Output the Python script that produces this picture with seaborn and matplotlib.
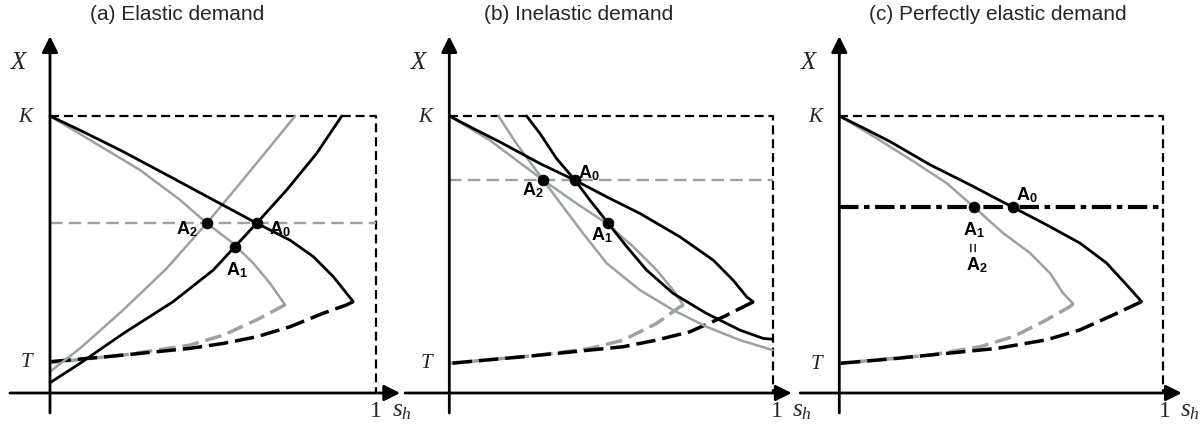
import matplotlib
matplotlib.use("Agg")
import matplotlib.pyplot as plt
import seaborn as sns

sns.set_theme(style="white")
plt.rcParams['font.family'] = ['Liberation Sans', 'DejaVu Sans']
plt.rcParams['mathtext.fontset'] = 'custom'
plt.rcParams['mathtext.it'] = 'Liberation Serif:italic'
plt.rcParams['mathtext.rm'] = 'Liberation Serif'
plt.rcParams['mathtext.bf'] = 'Liberation Sans:bold'
plt.rcParams['lines.scale_dashes'] = False

BLACK = '#000000'
GRAY = '#9AA3A1'

titles = ['(a) Elastic demand', '(b) Inelastic demand', '(c) Perfectly elastic demand']
t_levels = [0.114, 0.111, 0.108]

# ---- panel (a): elastic demand ----
a_black_down = [(0, 1.0), (0.102, 0.943), (0.225, 0.871), (0.378, 0.775), (0.501, 0.697),
                (0.634, 0.613), (0.736, 0.552), (0.808, 0.492), (0.869, 0.420), (0.930, 0.330)]
a_black_dash = [(0.930, 0.330), (0.910, 0.318), (0.838, 0.288), (0.736, 0.239), (0.634, 0.203),
                (0.532, 0.179), (0.429, 0.161), (0.327, 0.149), (0.174, 0.131), (0, 0.113)]
a_gray_down = [(0, 1.0), (0.123, 0.913), (0.276, 0.805), (0.399, 0.697), (0.481, 0.613),
               (0.562, 0.540), (0.624, 0.468), (0.675, 0.396), (0.721, 0.318)]
a_gray_dash = [(0.721, 0.318), (0.711, 0.312), (0.634, 0.264), (0.532, 0.209), (0.429, 0.173),
               (0.327, 0.155), (0.225, 0.137), (0, 0.110)]
a_black_up = [(0, 0.037), (0.092, 0.107), (0.225, 0.215), (0.378, 0.330), (0.501, 0.444),
              (0.567, 0.528), (0.634, 0.613), (0.726, 0.733), (0.818, 0.865), (0.895, 1.0)]
a_gray_up = [(0, 0.077), (0.092, 0.161), (0.225, 0.300), (0.358, 0.450), (0.481, 0.613),
             (0.583, 0.757), (0.675, 0.889), (0.752, 1.0)]
a_level = 0.613
a_points = {'A_0': (0.634, 0.613), 'A_1': (0.567, 0.528), 'A_2': (0.481, 0.613)}
a_labels = {'A_0': (0.706, 0.590), 'A_1': (0.573, 0.445), 'A_2': (0.419, 0.590)}

# ---- panel (b): inelastic demand ----
b_black_down = [(0, 1.0), (0.074, 0.955), (0.157, 0.906), (0.281, 0.828), (0.389, 0.768),
                (0.487, 0.708), (0.590, 0.648), (0.713, 0.564), (0.816, 0.480), (0.878, 0.407),
                (0.920, 0.347), (0.940, 0.329)]
b_black_dash = [(0.940, 0.329), (0.848, 0.275), (0.744, 0.221), (0.641, 0.191), (0.538, 0.167),
                (0.384, 0.149), (0.229, 0.131), (0, 0.107)]
b_black_steep = [(0.239, 1.0), (0.281, 0.936), (0.332, 0.846), (0.389, 0.768), (0.435, 0.696),
                 (0.492, 0.612), (0.549, 0.528), (0.610, 0.444), (0.693, 0.359), (0.796, 0.287),
                 (0.899, 0.227), (0.971, 0.197), (1.0, 0.194)]
b_gray_down = [(0, 1.0), (0.126, 0.912), (0.208, 0.840), (0.291, 0.768), (0.394, 0.684),
               (0.487, 0.612), (0.569, 0.528), (0.641, 0.444), (0.693, 0.371), (0.724, 0.317)]
b_gray_dash = [(0.724, 0.317), (0.713, 0.311), (0.641, 0.251), (0.538, 0.191), (0.435, 0.161),
               (0.281, 0.137), (0, 0.107)]
b_gray_steep = [(0.152, 1.0), (0.208, 0.900), (0.291, 0.768), (0.352, 0.672), (0.414, 0.576),
                (0.487, 0.468), (0.590, 0.371), (0.693, 0.299), (0.796, 0.239), (0.899, 0.191),
                (1.0, 0.155)]
b_level = 0.768
b_points = {'A_0': (0.389, 0.768), 'A_1': (0.492, 0.612), 'A_2': (0.291, 0.768)}
b_labels = {'A_0': (0.433, 0.793), 'A_1': (0.471, 0.571), 'A_2': (0.258, 0.733)}

# ---- panel (c): perfectly elastic demand ----
c_black_down = [(0, 1.0), (0.074, 0.957), (0.156, 0.908), (0.280, 0.824), (0.403, 0.752),
                (0.535, 0.671), (0.640, 0.607), (0.743, 0.541), (0.825, 0.469), (0.887, 0.390),
                (0.933, 0.330)]
c_black_dash = [(0.933, 0.330), (0.846, 0.282), (0.743, 0.228), (0.640, 0.192), (0.486, 0.161),
                (0.331, 0.143), (0.177, 0.125), (0, 0.107)]
c_gray_down = [(0, 1.0), (0.105, 0.927), (0.229, 0.836), (0.331, 0.758), (0.416, 0.671),
               (0.506, 0.577), (0.589, 0.505), (0.650, 0.433), (0.691, 0.360), (0.722, 0.322)]
c_gray_dash = [(0.722, 0.322), (0.712, 0.312), (0.630, 0.258), (0.538, 0.204), (0.434, 0.167),
               (0.280, 0.137), (0, 0.107)]
c_level = 0.671
c_points = {'A_0': (0.535, 0.671), 'A_1': (0.416, 0.671)}
c_labels = {'A_0': (0.578, 0.714), 'A_1': (0.416, 0.588), 'A_2': (0.424, 0.461)}

# pixel geometry of each panel: left px, right px, origin x px, px per unit x
W, H = 1202, 428
AXIS_Y_PX, UNIT_Y_PX = 393, 277
panels_px = [(0, 400, 50, 326), (400, 800, 449.3, 323.3), (800, 1202, 839.3, 324)]
title_x = [0.39, 0.401, 0.488]
one_x = [1.0, 1.012, 1.005]
sh_x = [1.05, 1.06, 1.05]
xaxis_start = [-0.123, -0.137, -0.121]
xaxis_tip = [1.074, 1.059, 1.057]

LW_BLACK, LW_GRAY, LW_DASH = 2.0, 1.8, 2.5


def curve(ax, pts, color, lw, dashes=None):
    xs = [p[0] for p in pts]
    ys = [p[1] for p in pts]
    sns.lineplot(x=xs, y=ys, ax=ax, color=color, lw=lw, sort=False, estimator=None,
                 solid_joinstyle='round', solid_capstyle='round')
    line = ax.lines[-1]
    if dashes is not None:
        line.set_dashes(dashes)
    line.set_clip_on(False)


def dots(ax, pts):
    xs = [p[0] for p in pts.values()]
    ys = [p[1] for p in pts.values()]
    sns.scatterplot(x=xs, y=ys, ax=ax, color=BLACK, s=60, edgecolor=BLACK, zorder=5)


def alabel(ax, key, xy):
    ax.text(xy[0], xy[1], r'$\mathbf{A}_{\mathbf{%s}}$' % key[-1], ha='center', va='center',
            fontsize=13, color=BLACK)


fig = plt.figure(figsize=(W / 100, H / 100), dpi=100)
axes = []
for i, (lpx, rpx, ox, ux) in enumerate(panels_px):
    ax = fig.add_axes([lpx / W, 0, (rpx - lpx) / W, 1])
    ax.set_xlim((lpx - ox) / ux, (rpx - ox) / ux)
    ax.set_ylim(-(H - AXIS_Y_PX) / UNIT_Y_PX, AXIS_Y_PX / UNIT_Y_PX)
    ax.axis('off')
    axes.append(ax)

    # axes with arrows
    ax.annotate('', xy=(xaxis_tip[i], 0), xytext=(xaxis_start[i], 0),
                arrowprops=dict(arrowstyle='-|>', color=BLACK, lw=2, mutation_scale=24,
                                shrinkA=0, shrinkB=0))
    ax.annotate('', xy=(0, 1.288), xytext=(0, -0.072),
                arrowprops=dict(arrowstyle='-|>', color=BLACK, lw=2, mutation_scale=24,
                                shrinkA=0, shrinkB=0))
    # dashed box
    curve(ax, [(0, 1), (1, 1), (1, 0)], BLACK, 1.6, dashes=(6.5, 3.5))

    ax.text(title_x[i], 1.365, titles[i], ha='center', va='center', fontsize=15)
    ax.text(-0.093, 1.195, r'$X$', ha='center', va='center', fontsize=18)
    ax.text(-0.045, 1.0, r'$K$', ha='right', va='center', fontsize=15)
    ax.text(-0.045, t_levels[i], r'$T$', ha='right', va='center', fontsize=15)
    ax.text(one_x[i], -0.065, '1', ha='center', va='center', fontsize=17,
            family='Liberation Serif')
    ax.text(sh_x[i], -0.06, r'$s_h$', ha='left', va='center', fontsize=18)

ax_a, ax_b, ax_c = axes

# panel (a)
curve(ax_a, [(0, a_level), (1, a_level)], GRAY, 1.7, dashes=(9, 4.5))
curve(ax_a, a_gray_dash, GRAY, LW_DASH, dashes=(12, 5))
curve(ax_a, a_black_dash, BLACK, LW_DASH, dashes=(14, 5))
curve(ax_a, a_gray_down, GRAY, LW_GRAY)
curve(ax_a, a_gray_up, GRAY, LW_GRAY)
curve(ax_a, a_black_down, BLACK, LW_BLACK)
curve(ax_a, a_black_up, BLACK, LW_BLACK)
dots(ax_a, a_points)
for k, xy in a_labels.items():
    alabel(ax_a, k, xy)

# panel (b)
curve(ax_b, [(0, b_level), (1, b_level)], GRAY, 1.7, dashes=(9, 4.5))
curve(ax_b, b_gray_dash, GRAY, LW_DASH, dashes=(12, 5))
curve(ax_b, b_black_dash, BLACK, LW_DASH, dashes=(14, 5))
curve(ax_b, b_gray_down, GRAY, LW_GRAY)
curve(ax_b, b_gray_steep, GRAY, LW_GRAY)
curve(ax_b, b_black_down, BLACK, LW_BLACK)
curve(ax_b, b_black_steep, BLACK, LW_BLACK)
dots(ax_b, b_points)
for k, xy in b_labels.items():
    alabel(ax_b, k, xy)

# panel (c)
curve(ax_c, [(0, c_level), (1, c_level)], BLACK, 3.0, dashes=(14, 4, 4, 4))
curve(ax_c, c_gray_dash, GRAY, LW_DASH, dashes=(12, 5))
curve(ax_c, c_black_dash, BLACK, LW_DASH, dashes=(14, 5))
curve(ax_c, c_gray_down, GRAY, LW_GRAY)
curve(ax_c, c_black_down, BLACK, LW_BLACK)
dots(ax_c, c_points)
for k, xy in c_labels.items():
    alabel(ax_c, k, xy)
ax_c.text(0.418, 0.528, '=', rotation=90, ha='center', va='center', fontsize=12,
          fontweight='bold')

fig.savefig('out.png', dpi=100)
plt.close(fig)
